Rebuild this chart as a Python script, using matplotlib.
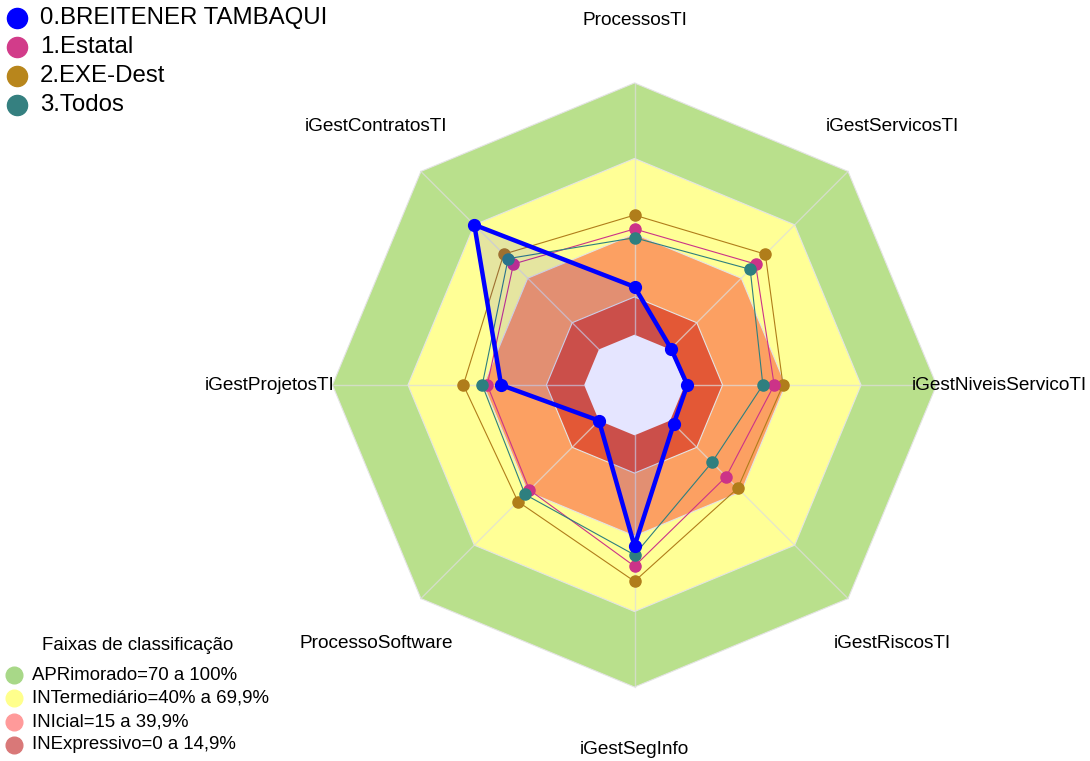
# Radar de maturidade de governanca de TI (faixas de classificacao)

import numpy as np
import matplotlib.pyplot as plt
from matplotlib.patches import Polygon

plt.rcParams['font.family'] = ['Liberation Sans', 'DejaVu Sans']

# eixos do radar, no sentido horario a partir do topo
eixos = ['ProcessosTI', 'iGestServicosTI', 'iGestNiveisServicoTI', 'iGestRiscosTI',
         'iGestSegInfo', 'ProcessoSoftware', 'iGestProjetosTI', 'iGestContratosTI']

# valores (%)
breitener = [19, 0.5, 1, 2, 44, 0, 33, 70]
estatal = [42, 48, 35.5, 31.5, 52, 39, 38.5, 48]
exe_dest = [47.5, 53.5, 39, 38, 58, 45.5, 48, 53.5]
todos = [38.5, 45, 31, 23.5, 47.5, 41.5, 40.5, 51]

series = ['0.BREITENER TAMBAQUI', '1.Estatal', '2.EXE-Dest', '3.Todos']
cores_series = ['#0000ff', '#cc3388', '#b07d1a', '#2e7f7f']
cores_leg_series = ['#0000ff', '#d23c8a', '#b8861c', '#358080']

# faixas de classificacao
faixas_lim = [100, 70, 40, 15]
faixas_cor = ['#b9e08c', '#ffff96', '#fca062', '#e35836']
faixas_rot = ['APRimorado=70 a 100%', 'INTermediário=40% a 69,9%',
              'INIcial=15 a 39,9%', 'INExpressivo=0 a 14,9%']
faixas_cor_leg = ['#a8d888', '#ffff8c', '#ff9a9a', '#d97878']

RMIN = -20
ESCALA = 2.517          # pixels por ponto percentual
CX, CY = 634.5, 385

n = len(eixos)
ang = np.deg2rad(90 - np.arange(n) * 360 / n)


def xy(vals):
    r = (np.asarray(vals, dtype=float) - RMIN) * ESCALA
    return CX + r * np.cos(ang), CY - r * np.sin(ang)


fig = plt.figure(figsize=(10.9, 7.61), dpi=100)
ax = fig.add_axes([0, 0, 1, 1])
ax.set_xlim(0, 1090)
ax.set_ylim(761, 0)
ax.set_aspect('equal')
ax.axis('off')

# faixas
for lim, cor in zip(faixas_lim, faixas_cor):
    x, y = xy([lim] * n)
    ax.add_patch(Polygon(np.column_stack([x, y]), closed=True, facecolor=cor,
                         edgecolor='#e4e4e4', lw=0.8, zorder=1))
x0, y0 = xy([0] * n)
ax.add_patch(Polygon(np.column_stack([x0, y0]), closed=True, facecolor='white',
                     edgecolor='none', zorder=1))

# raios (de 0 a 100)
xo, yo = xy([100] * n)
for i in range(n):
    ax.plot([x0[i], xo[i]], [y0[i], yo[i]], color='#dedede', alpha=0.7, lw=1, zorder=2)

# rotulos dos eixos
xl, yl = xy([125] * n)
for i, nome in enumerate(eixos):
    ax.text(xl[i], yl[i], nome, ha='center', va='center', fontsize=13.7, zorder=5)

# series
dados = [breitener, estatal, exe_dest, todos]
for k in [2, 1, 3]:
    x, y = xy(dados[k])
    ax.plot(np.append(x, x[0]), np.append(y, y[0]), color=cores_series[k], lw=0.8,
            zorder=3)
    ax.plot(x, y, 'o', color=cores_series[k], ms=8, zorder=3)

x, y = xy(breitener)
ax.add_patch(Polygon(np.column_stack([x, y]), closed=True, facecolor='#0000ff',
                     alpha=0.1, edgecolor='none', zorder=3))
ax.plot(np.append(x, x[0]), np.append(y, y[0]), color='#0000ff', lw=3.2, zorder=4)
ax.plot(x, y, 'o', color='#0000ff', ms=8.5, zorder=4)

# legenda das series
for k, nome in enumerate(series):
    yy = 18 + k * 29
    ax.plot(17, yy, 'o', color=cores_leg_series[k], ms=14.5, clip_on=False)
    ax.text(40, yy, nome, ha='left', va='center', fontsize=17.3)

# legenda das faixas
ax.text(138, 646, 'Faixas de classificação', ha='center', va='center', fontsize=13.4)
for k, rot in enumerate(faixas_rot):
    yy = 675 + k * 23.3
    ax.plot(14, yy, 'o', color=faixas_cor_leg[k], ms=12,
            markeredgecolor=faixas_cor_leg[k], clip_on=False)
    ax.text(32, yy, rot, ha='left', va='center', fontsize=13.4)

plt.savefig('out.png', dpi=100)
